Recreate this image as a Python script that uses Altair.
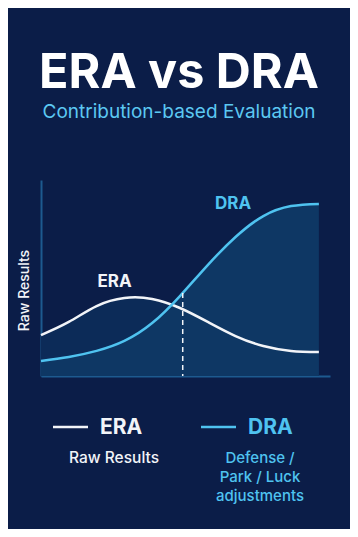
import altair as alt
import pandas as pd

# ---- data ----
x_vals = [0, 1, 2, 3, 4, 5, 6, 7, 8, 9, 10]
era_vals = [20.9, 27.6, 35.7, 39.8, 39.3, 34.7, 27.6, 20.4, 15.3, 12.8, 12.2]
dra_vals = [7.7, 9.7, 12.8, 17.9, 27.0, 40.8, 56.6, 70.9, 81.6, 86.7, 87.8]
marker_x = [5.1]
marker_top = [42.3]
label_names = ["ERA", "DRA"]
label_x = [2.645, 6.91]
label_y = [45.6, 85.2]

TITLE = "ERA vs DRA"
SUBTITLE = "Contribution-based Evaluation"
Y_TITLE = "Raw Results"
ERA_DESC = "Raw Results"
DRA_DESC = "Defense /\nPark / Luck\nadjustments"

BG = "#0b1d48"
WHITE = "#f2f4f8"
CYAN = "#4fc3f0"
AXIS = "#1d5a8f"
FONT = "Inter"

df = pd.DataFrame({"x": x_vals, "ERA": era_vals, "DRA": dra_vals})
df_marker = pd.DataFrame({"x": marker_x, "top": marker_top, "bottom": [0]})
df_labels = pd.DataFrame({"x": label_x, "y": label_y, "label": label_names,
                          "color": [WHITE, CYAN]})
one = pd.DataFrame({"a": [0]})

xs = alt.Scale(domain=[0, 10.4], nice=False, zero=False)
ys = alt.Scale(domain=[0, 100], nice=False)

x_axis = alt.Axis(title=None, labels=False, ticks=False, grid=False,
                  domainColor=AXIS, domainWidth=2)
y_axis = alt.Axis(title=Y_TITLE, labels=False, ticks=False, grid=False,
                  domainColor=AXIS, domainWidth=2,
                  titleColor=WHITE, titleFont=FONT, titleFontSize=14,
                  titleFontWeight=500, titleAngle=270, titleX=-13, titleY=110,
                  titleAlign="center", titleBaseline="alphabetic")

base = alt.Chart(df)
X = alt.X("x:Q", scale=xs, axis=x_axis)
INTERP = "natural"

area_era = base.mark_area(color="#0c2b58", interpolate=INTERP).encode(
    x=X, y=alt.Y("ERA:Q", scale=ys, axis=y_axis))
area_dra = base.mark_area(color="#0e3764", interpolate=INTERP).encode(
    x=X, y=alt.Y("DRA:Q", scale=ys))
line_era = base.mark_line(color=WHITE, strokeWidth=2.5, interpolate=INTERP).encode(
    x=X, y=alt.Y("ERA:Q", scale=ys))
line_dra = base.mark_line(color=CYAN, strokeWidth=2.5, interpolate=INTERP).encode(
    x=X, y=alt.Y("DRA:Q", scale=ys))

marker = alt.Chart(df_marker).mark_rule(color=WHITE, strokeWidth=1.5,
                                        strokeDash=[5, 4]).encode(
    x=alt.X("x:Q", scale=xs), y=alt.Y("top:Q", scale=ys), y2="bottom:Q")

labels = alt.Chart(df_labels).mark_text(font=FONT, fontSize=17, fontWeight="bold",
                                        baseline="alphabetic", align="center").encode(
    x=alt.X("x:Q", scale=xs), y=alt.Y("y:Q", scale=ys),
    text="label:N", color=alt.Color("color:N", scale=None))

ot = alt.Chart(one)
title = ot.mark_text(text=TITLE, font=FONT, fontSize=48.5, fontWeight="bold",
                     color="#ffffff", align="center", baseline="alphabetic").encode(
    x=alt.value(138), y=alt.value(-92))
subtitle = ot.mark_text(text=SUBTITLE, font=FONT, fontSize=19, fontWeight=400,
                        color="#5cc8f2", align="center", baseline="alphabetic").encode(
    x=alt.value(138), y=alt.value(-62))

leg_era_line = ot.mark_rule(color=WHITE, strokeWidth=2.5).encode(
    x=alt.value(12), x2=alt.value(47), y=alt.value(247))
leg_dra_line = ot.mark_rule(color=CYAN, strokeWidth=2.5).encode(
    x=alt.value(160), x2=alt.value(195), y=alt.value(247))
leg_era_txt = ot.mark_text(text="ERA", font=FONT, fontSize=21, fontWeight="bold",
                           color=WHITE, align="left", baseline="alphabetic").encode(
    x=alt.value(59), y=alt.value(254))
leg_dra_txt = ot.mark_text(text="DRA", font=FONT, fontSize=21, fontWeight="bold",
                           color=CYAN, align="left", baseline="alphabetic").encode(
    x=alt.value(207), y=alt.value(254))
leg_era_desc = ot.mark_text(text=ERA_DESC, font=FONT, fontSize=15.5, fontWeight=500,
                            color=WHITE, align="center", baseline="alphabetic").encode(
    x=alt.value(73), y=alt.value(283))
leg_dra_desc = ot.mark_text(text=DRA_DESC, lineBreak="\n", lineHeight=19, font=FONT,
                            fontSize=15, fontWeight=500, color=CYAN,
                            align="center", baseline="alphabetic").encode(
    x=alt.value(219), y=alt.value(283))

chart = alt.layer(
    area_era, area_dra, line_era, line_dra, marker, labels,
    title, subtitle, leg_era_line, leg_dra_line, leg_era_txt, leg_dra_txt,
    leg_era_desc, leg_dra_desc,
).properties(
    width=289, height=196,
    autosize=alt.AutoSizeParams(type="none"),
    padding={"left": 33, "top": 172, "right": 20, "bottom": 153},
    background=BG,
).configure_view(stroke=None)

chart.save("out.html", embed_options={"renderer": "svg", "actions": False})
